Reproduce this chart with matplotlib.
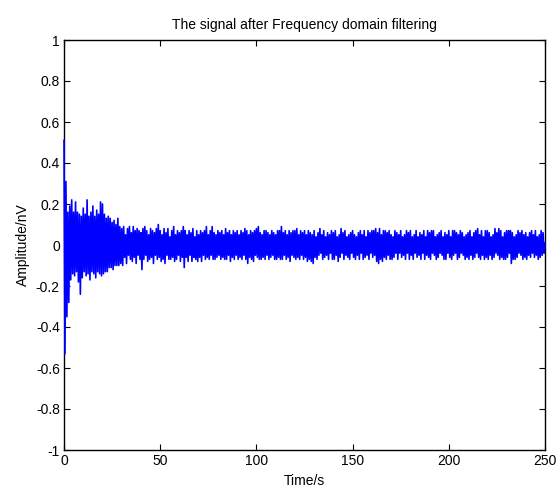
import numpy as np
import matplotlib
matplotlib.use("Agg")
import matplotlib.pyplot as plt
from matplotlib.ticker import FuncFormatter

plt.rcParams['font.family'] = ['Liberation Sans', 'DejaVu Sans']

# Filtered signal, sampled every 0.5 s; one row per 10 s block
signal_rows = [
    [0.51, -0.53, 0.31, -0.35, 0.16, -0.28, 0.19, -0.17, 0.22, -0.14, 0.16, -0.15, 0.21, -0.13, 0.16, -0.18, 0.15, -0.24, 0.14, -0.16],
    [0.18, -0.13, 0.15, -0.15, 0.22, -0.14, 0.14, -0.17, 0.16, -0.13, 0.19, -0.14, 0.14, -0.16, 0.17, -0.13, 0.15, -0.14, 0.21, -0.15],
    [0.20, -0.14, 0.15, -0.13, 0.13, -0.13, 0.14, -0.11, 0.13, -0.11, 0.11, -0.12, 0.12, -0.10, 0.10, -0.10, 0.13, -0.10, 0.09, -0.09],
    [0.08, -0.10, 0.09, -0.06, 0.05, -0.09, 0.08, -0.05, 0.09, -0.07, 0.06, -0.08, 0.09, -0.06, 0.07, -0.09, 0.08, -0.05, 0.07, -0.07],
    [0.06, -0.12, 0.08, -0.07, 0.09, -0.05, 0.07, -0.08, 0.05, -0.07, 0.08, -0.06, 0.07, -0.09, 0.06, -0.05, 0.08, -0.07, 0.10, -0.06],
    [0.07, -0.08, 0.05, -0.07, 0.08, -0.09, 0.06, -0.05, 0.08, -0.07, 0.04, -0.07, 0.07, -0.06, 0.09, -0.08, 0.05, -0.07, 0.07, -0.05],
    [0.06, -0.08, 0.07, -0.06, 0.09, -0.11, 0.07, -0.06, 0.05, -0.08, 0.07, -0.05, 0.06, -0.08, 0.08, -0.06, 0.04, -0.07, 0.07, -0.08],
    [0.05, -0.06, 0.07, -0.08, 0.06, -0.05, 0.07, -0.07, 0.09, -0.06, 0.05, -0.07, 0.07, -0.05, 0.09, -0.07, 0.06, -0.07, 0.05, -0.06],
    [0.07, -0.05, 0.06, -0.07, 0.07, -0.06, 0.05, -0.07, 0.08, -0.07, 0.06, -0.05, 0.07, -0.08, 0.05, -0.06, 0.07, -0.07, 0.06, -0.05],
    [0.07, -0.07, 0.05, -0.06, 0.07, -0.07, 0.06, -0.05, 0.08, -0.07, 0.07, -0.09, 0.05, -0.06, 0.07, -0.07, 0.06, -0.08, 0.07, -0.05],
    [0.08, -0.06, 0.09, -0.07, 0.06, -0.07, 0.05, -0.06, 0.07, -0.07, 0.07, -0.05, 0.06, -0.07, 0.05, -0.06, 0.07, -0.05, 0.06, -0.07],
    [0.05, -0.07, 0.07, -0.06, 0.07, -0.07, 0.09, -0.07, 0.06, -0.05, 0.07, -0.07, 0.05, -0.06, 0.07, -0.08, 0.06, -0.05, 0.07, -0.06],
    [0.07, -0.07, 0.08, -0.06, 0.05, -0.07, 0.07, -0.05, 0.06, -0.07, 0.07, -0.06, 0.05, -0.08, 0.07, -0.07, 0.06, -0.08, 0.05, -0.09],
    [0.07, -0.06, 0.04, -0.07, 0.06, -0.05, 0.08, -0.04, 0.05, -0.07, 0.07, -0.06, 0.04, -0.05, 0.06, -0.07, 0.05, -0.04, 0.07, -0.07],
    [0.06, -0.07, 0.07, -0.05, 0.04, -0.08, 0.05, -0.06, 0.08, -0.04, 0.06, -0.07, 0.07, -0.05, 0.04, -0.06, 0.05, -0.07, 0.06, -0.04],
    [0.07, -0.06, 0.05, -0.07, 0.04, -0.05, 0.06, -0.07, 0.07, -0.04, 0.05, -0.07, 0.07, -0.06, 0.04, -0.05, 0.07, -0.07, 0.06, -0.04],
    [0.07, -0.06, 0.07, -0.05, 0.08, -0.08, 0.06, -0.09, 0.08, -0.07, 0.05, -0.08, 0.07, -0.06, 0.07, -0.07, 0.06, -0.05, 0.07, -0.07],
    [0.05, -0.07, 0.04, -0.06, 0.07, -0.04, 0.06, -0.07, 0.05, -0.04, 0.07, -0.06, 0.04, -0.05, 0.05, -0.07, 0.07, -0.04, 0.06, -0.07],
    [0.07, -0.05, 0.04, -0.07, 0.05, -0.04, 0.07, -0.06, 0.04, -0.05, 0.06, -0.07, 0.05, -0.04, 0.07, -0.07, 0.04, -0.05, 0.07, -0.06],
    [0.06, -0.07, 0.07, -0.04, 0.07, -0.05, 0.04, -0.07, 0.05, -0.06, 0.06, -0.04, 0.07, -0.05, 0.04, -0.07, 0.06, -0.07, 0.05, -0.04],
    [0.07, -0.06, 0.04, -0.07, 0.07, -0.05, 0.07, -0.04, 0.06, -0.07, 0.05, -0.06, 0.07, -0.04, 0.06, -0.05, 0.04, -0.07, 0.05, -0.06],
    [0.06, -0.07, 0.07, -0.05, 0.04, -0.07, 0.06, -0.06, 0.07, -0.04, 0.08, -0.06, 0.05, -0.07, 0.07, -0.05, 0.04, -0.07, 0.07, -0.06],
    [0.07, -0.07, 0.06, -0.05, 0.04, -0.07, 0.05, -0.06, 0.08, -0.04, 0.06, -0.05, 0.08, -0.07, 0.07, -0.06, 0.04, -0.07, 0.06, -0.07],
    [0.07, -0.06, 0.07, -0.04, 0.07, -0.09, 0.06, -0.07, 0.04, -0.07, 0.05, -0.06, 0.07, -0.04, 0.06, -0.05, 0.07, -0.07, 0.05, -0.06],
    [0.06, -0.07, 0.04, -0.05, 0.06, -0.06, 0.07, -0.04, 0.05, -0.06, 0.07, -0.05, 0.04, -0.07, 0.05, -0.06, 0.07, -0.05, 0.06, -0.04],
]
signal_tail = [0.01]
sample_step = 0.5  # seconds

x_ticks = [0, 50, 100, 150, 200, 250]
y_ticks = [-1, -0.8, -0.6, -0.4, -0.2, 0, 0.2, 0.4, 0.6, 0.8, 1]

amplitude = np.array([v for row in signal_rows for v in row] + signal_tail)
time = np.arange(len(amplitude)) * sample_step

fig = plt.figure(figsize=(5.57, 4.87), dpi=100)
ax = fig.add_axes([64 / 557, 1 - 450 / 487, (545 - 64) / 557, (450 - 40) / 487])

# draw the trace above the frame so the first samples stay visible on the y axis
ax.plot(time, amplitude, color=(0, 0, 1), linewidth=1.2, zorder=3, clip_on=False)

ax.set_xlim(0, 250)
ax.set_ylim(-1, 1)
ax.set_xticks(x_ticks)
ax.set_yticks(y_ticks)
ax.yaxis.set_major_formatter(FuncFormatter(lambda v, p: f"{v:g}"))
ax.tick_params(direction='in', top=True, right=True, length=4, width=0.8,
               labelsize=10, pad=3)
for s in ax.spines.values():
    s.set_linewidth(1.0)

ax.set_title("The signal after Frequency domain filtering", fontsize=10, pad=8)
ax.set_xlabel("Time/s", fontsize=10, labelpad=4)
ax.set_ylabel("Amplitude/nV", fontsize=10, labelpad=4)

fig.savefig("out.png", dpi=100)
